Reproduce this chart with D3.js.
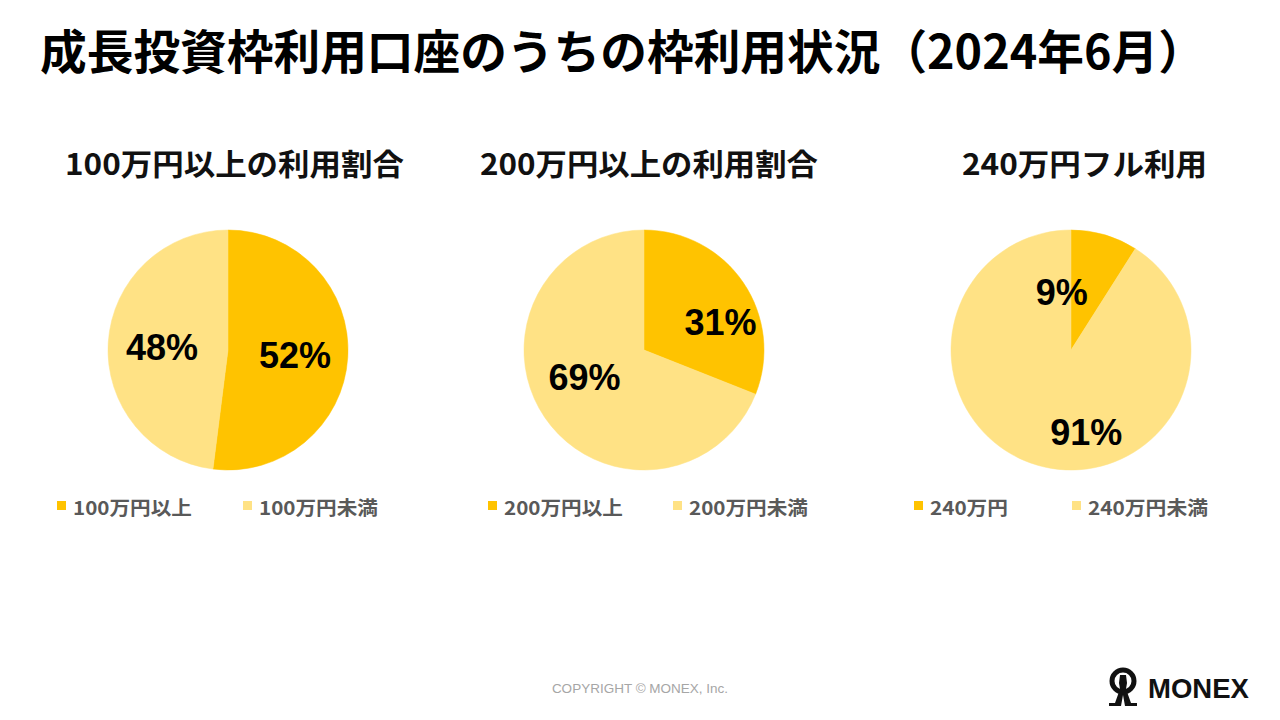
<!DOCTYPE html>
<html><head><meta charset="utf-8">
<script src="https://cdn.jsdelivr.net/npm/d3@7"></script>
<style>html,body{margin:0;padding:0;background:#fff;}svg{display:block;}</style>
</head><body>
<script>
// ---- data ----
const mainTitle = "成長投資枠利用口座のうちの枠利用状況（2024年6月）";
const chartTitles = ["100万円以上の利用割合", "200万円以上の利用割合", "240万円フル利用"];
const usedLabels = ["100万円以上", "200万円以上", "240万円"];
const unusedLabels = ["100万円未満", "200万円未満", "240万円未満"];
const usedShare = [52, 31, 9];
const unusedShare = [48, 69, 91];
const copyrightText = "COPYRIGHT © MONEX, Inc.";
const brandText = "MONEX";

// ---- layout ----
const W = 1280, H = 720;
const pieCX = [228, 644, 1071];
const pieCY = 350, R = 120;
const titleSpan = [[65, 404], [480, 818], [962, 1207]];
const legendX = [[57, 243], [488, 673], [914, 1072]];
const legendW = [[119, 119], [119, 119], [78, 120]];
const labelNudge = [[[0, 1], [1, 1]], [[21, 10], [-4, -11]], [[-28, 7], [34, 18]]];
const colors = ["#FFC300", "#FFE285"];
const CJK = "'Noto Sans CJK JP','Noto Sans',sans-serif";
const LAT = "'Liberation Sans',Arial,sans-serif";

const svg = d3.select("body").append("svg").attr("width", W).attr("height", H);

// main title, fitted to span
const t = svg.append("text").attr("x", 40).attr("y", 48)
  .attr("dominant-baseline", "central")
  .style("font-family", CJK).style("font-weight", 700).style("font-size", "46px")
  .attr("fill", "#000").text(mainTitle);
const tw = t.node().getComputedTextLength();
t.style("font-size", (46 * 1165 / tw) + "px");

const pie = d3.pie().sort(null).value(d => d.v);
const arc = d3.arc().innerRadius(0).outerRadius(R);
const labelArc = d3.arc().innerRadius(R * 0.56).outerRadius(R * 0.56);

chartTitles.forEach((title, i) => {
  const [x0, x1] = titleSpan[i];
  svg.append("text").attr("x", x0).attr("y", 162)
    .attr("dominant-baseline", "central")
    .attr("textLength", x1 - x0).attr("lengthAdjust", "spacingAndGlyphs")
    .style("font-family", CJK).style("font-weight", 700).style("font-size", "30px")
    .attr("fill", "#111").text(title);

  const data = [
    { v: usedShare[i], name: usedLabels[i] },
    { v: unusedShare[i], name: unusedLabels[i] }
  ];
  const arcs = pie(data);
  const g = svg.append("g").attr("transform", `translate(${pieCX[i]},${pieCY})`);
  g.selectAll("path").data(arcs).join("path")
    .attr("d", arc).attr("fill", (d, j) => colors[j])
    .attr("stroke", (d, j) => colors[j]).attr("stroke-width", 0.5);
  g.selectAll("text").data(arcs).join("text")
    .attr("x", (d, j) => labelArc.centroid(d)[0] + labelNudge[i][j][0])
    .attr("y", (d, j) => labelArc.centroid(d)[1] + labelNudge[i][j][1])
    .attr("text-anchor", "middle").attr("dy", "0.36em")
    .style("font-family", LAT).style("font-weight", 700).style("font-size", "36px")
    .attr("fill", "#000").text(d => d.data.v + "%");

  // legend
  data.forEach((d, j) => {
    const lx = legendX[i][j];
    svg.append("rect").attr("x", lx).attr("y", 501).attr("width", 9).attr("height", 9)
      .attr("fill", colors[j]);
    svg.append("text").attr("x", lx + 16).attr("y", 506)
      .attr("dominant-baseline", "central")
      .attr("textLength", legendW[i][j]).attr("lengthAdjust", "spacingAndGlyphs")
      .style("font-family", CJK).style("font-weight", 700).style("font-size", "19px")
      .attr("fill", "#595959").text(d.name);
  });
});

// footer
svg.append("text").attr("x", 640).attr("y", 688).attr("text-anchor", "middle")
  .attr("dominant-baseline", "central")
  .style("font-family", LAT).style("font-size", "13.5px").attr("fill", "#a6a6a6")
  .text(copyrightText);

// logo
const logo = svg.append("g").attr("transform", "translate(1123,681)");
logo.append("circle").attr("r", 11).attr("fill", "none").attr("stroke", "#111").attr("stroke-width", 5);
logo.append("path").attr("fill", "#111")
  .attr("d", "M-3,-6 L3,-6 L4,2 L3,8 L8,22 L14,22 L14,25 L2,25 L0,14 L-2,25 L-14,25 L-14,22 L-8,22 L-3,8 L-4,2 Z");
svg.append("text").attr("x", 1148).attr("y", 698)
  .style("font-family", LAT).style("font-weight", 700).style("font-size", "27.5px")
  .attr("fill", "#111").text(brandText);
</script>
</body></html>
